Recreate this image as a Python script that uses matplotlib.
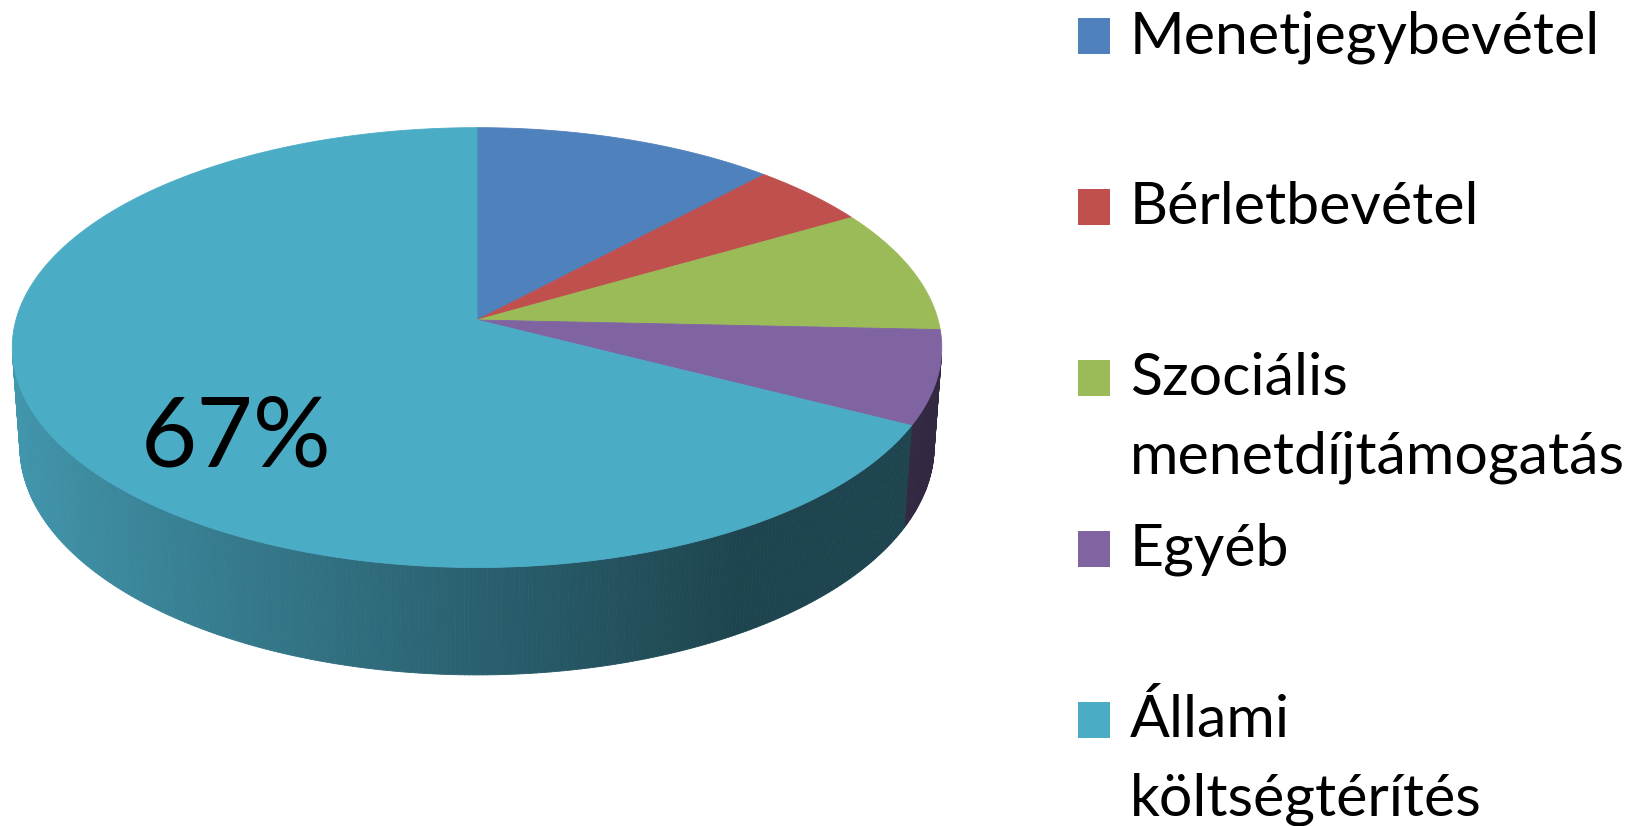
import numpy as np
import matplotlib.pyplot as plt
from matplotlib.patches import Polygon, Rectangle
from matplotlib.collections import PolyCollection
from matplotlib.colors import to_rgb

# adatok (ábráról leolvasva)
categories = ['Menetjegybevétel', 'Bérletbevétel', 'Szociális\nmenetdíjtámogatás',
              'Egyéb', 'Állami\nköltségtérítés']
shares = [11.9, 4.7, 9.1, 6.9, 67.4]
colors = ['#4F81BD', '#C0504D', '#9BBB59', '#8064A2', '#4BACC6']
labelled = [4]  # csak a nagy szelet kap feliratot

FONT = ['Lato', 'DejaVu Sans']

# nézet a 3d tortához (pixelben)
CX, CY = 477, 320
FOCAL = 3246
DIST = 7.04
ELEV = np.radians(28)
THICK = 0.245


def project(theta, r=1.0, z=0.0):
    # theta: 12 órától óramutató szerint, radiánban
    X = r * np.sin(theta)
    Y = r * np.cos(theta)
    c, s = np.cos(ELEV), np.sin(ELEV)
    depth = DIST + Y * c - z * s
    up = Y * s + z * c
    return CX + FOCAL * X / depth, CY - FOCAL * up / depth


def shade(theta):
    k = (-np.sin(theta) + 0.5) / 1.5
    return 0.4 + 0.48 * np.clip(k, 0, 1)


fig = plt.figure(figsize=(16.45, 8.26), dpi=100)
ax = fig.add_axes([0, 0, 1, 1])
ax.set_xlim(0, 1645)
ax.set_ylim(826, 0)
ax.axis('off')

total = sum(shares)
bounds = np.concatenate([[0], np.cumsum(shares)]) / total * 2 * np.pi

# oldalfal
limit = -1 / (DIST * np.cos(ELEV))
polys, fcs = [], []
for i in range(len(shares)):
    n = max(int(np.degrees(bounds[i + 1] - bounds[i]) * 2), 2)
    t = np.linspace(bounds[i], bounds[i + 1], n + 1)
    for a, b in zip(t[:-1], t[1:]):
        m = (a + b) / 2
        if np.cos(m) > limit:
            continue
        pts = [project(a), project(b), project(b, z=-THICK), project(a, z=-THICK)]
        polys.append(pts)
        fcs.append(np.array(to_rgb(colors[i])) * shade(m))
ax.add_collection(PolyCollection(polys, facecolors=fcs, edgecolors=fcs, linewidths=0.6))

# teteje
for i in range(len(shares)):
    t = np.linspace(bounds[i], bounds[i + 1], 200)
    xs, ys = project(t)
    x0, y0 = project(0, 0)
    ax.add_patch(Polygon(np.column_stack([np.r_[x0, xs], np.r_[y0, ys]]), closed=True,
                         fc=colors[i], ec=colors[i], lw=0.6))

# felirat
for i in labelled:
    mid = (bounds[i] + bounds[i + 1]) / 2
    lx, ly = project(mid, 0.6, -0.4 * THICK)
    ax.text(lx + 3, ly + 35, f'{shares[i] / total * 100:.0f}%', ha='center', va='baseline',
            fontsize=70, family=FONT, color='black')

# jelmagyarázat
for i, (name, col) in enumerate(zip(categories, colors)):
    base = 53 + 171 * i
    ax.add_patch(Rectangle((1078, base - 35), 32, 36, fc=col, ec='none'))
    for j, line in enumerate(name.split('\n')):
        ax.text(1130, base + 79 * j, line, fontsize=42.5, family=FONT,
                va='baseline', ha='left', color='black')

fig.savefig('out.png', dpi=100)
